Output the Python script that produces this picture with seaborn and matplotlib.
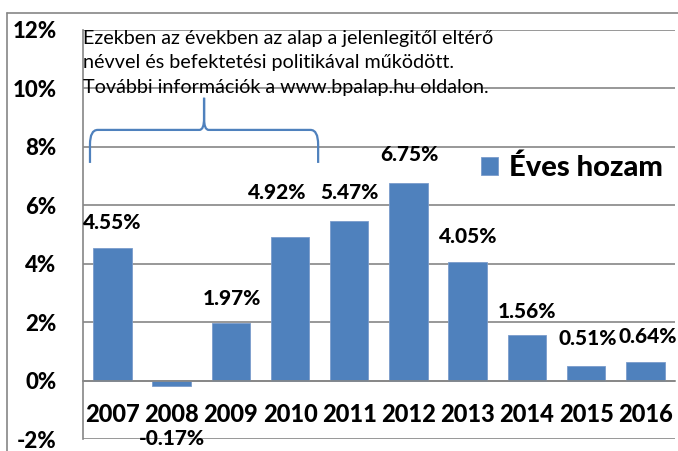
import pandas as pd
import numpy as np
import matplotlib.pyplot as plt
import seaborn as sns
import matplotlib.ticker as mticker
from matplotlib.path import Path
from matplotlib.patches import PathPatch
from matplotlib.lines import Line2D

years = ['2007', '2008', '2009', '2010', '2011', '2012', '2013', '2014', '2015', '2016']
returns = [4.55, -0.17, 1.97, 4.92, 5.47, 6.75, 4.05, 1.56, 0.51, 0.64]
series_name = 'Éves hozam'
note = ('Ezekben az években az alap a jelenlegitől eltérő\n'
        'névvel és befektetési politikával működött.\n'
        'További információk a www.bpalap.hu oldalon.')

# label nudges in pixels (excel placed some labels off-centre)
label_offsets = [(0, 25), (0, -53), (1, 25), (-13, 44), (0, 28),
                 (1, 29), (1, 26), (0, 23), (2, 27), (2, 25)]

sns.set_style('white')
plt.rcParams['font.family'] = ['Lato', 'DejaVu Sans']
plt.rcParams['text.color'] = 'black'
bold = 'black'

blue = '#4F81BD'
grey = '#868686'

df = pd.DataFrame({'year': years, 'ret': returns})

fig = plt.figure(figsize=(6.78, 4.51), dpi=100)
ax = fig.add_axes([82.7 / 678, 1 - 439 / 451, (675 - 82.7) / 678, (439 - 30) / 451])

sns.barplot(data=df, x='year', y='ret', color=blue, saturation=1, width=0.65,
            label=series_name, ax=ax, edgecolor='#7a9ccc', linewidth=0.6)

ax.set_xlim(-0.5, 9.5)
ax.set_ylim(-2, 12)
ax.set_xlabel('')
ax.set_ylabel('')
ax.yaxis.set_major_locator(mticker.MultipleLocator(2))
ax.yaxis.set_major_formatter(mticker.FuncFormatter(lambda v, p: f'{v:.0f}%'))
ax.set_axisbelow(True)
ax.yaxis.grid(True, color=grey, lw=1.2)

for s in ['top', 'right']:
    ax.spines[s].set_visible(False)
ax.spines['bottom'].set_position(('data', 0))
ax.spines['bottom'].set_color(grey)
ax.spines['bottom'].set_linewidth(1.2)
ax.spines['left'].set_color(grey)
ax.spines['left'].set_linewidth(1.2)

ax.set_xticks(np.arange(-0.5, 10, 1), minor=True)
ax.tick_params(axis='x', which='major', length=0, pad=16.5, labelsize=17, labelcolor='black')
ax.tick_params(axis='x', which='minor', length=4.5, width=1.2, color=grey, direction='out')
ax.tick_params(axis='y', length=5.8, width=1.2, color=grey, pad=13, labelsize=16,
               labelcolor='black')
for lab in ax.get_xticklabels() + ax.get_yticklabels():
    lab.set_fontweight(bold)

for i, (v, off) in enumerate(zip(returns, label_offsets)):
    ax.annotate(f'{v:.2f}%', xy=(i, v), xytext=off, textcoords='offset pixels',
                ha='center', va='center', fontsize=15, fontweight=bold)

leg = ax.legend(loc='center left', frameon=False, borderpad=0,
                prop={'size': 21, 'weight': bold}, handlelength=0.57, handleheight=0.57,
                handletextpad=0.4, borderaxespad=0)
leg.set_bbox_to_anchor((481 / 678, 1 - 168 / 451), transform=fig.transFigure)

ax.text(-0.5, 12.0, note, ha='left', va='top', fontsize=14.2, linespacing=1.53)

# curly brace over the first years
x0, x1, xm = -0.377, 3.475, 1.549
ye, yh, yp = 7.45, 8.58, 9.68
ddx, ddy = 0.13, 0.5
verts = [(x0, ye), (x0, yh - ddy), (x0, yh), (x0 + ddx, yh),
         (xm - ddx * 0.6, yh), (xm, yh), (xm, yh + ddy * 0.8), (xm, yp),
         (xm, yh + ddy * 0.8), (xm, yh), (xm + ddx * 0.6, yh),
         (x1 - ddx, yh), (x1, yh), (x1, yh - ddy), (x1, ye)]
codes = [Path.MOVETO, Path.LINETO, Path.CURVE3, Path.CURVE3,
         Path.LINETO, Path.CURVE3, Path.CURVE3, Path.LINETO,
         Path.LINETO, Path.CURVE3, Path.CURVE3,
         Path.LINETO, Path.CURVE3, Path.CURVE3, Path.LINETO]
ax.add_patch(PathPatch(Path(verts, codes), fill=False, edgecolor=blue, lw=1.6,
                       clip_on=False))

# outer chart frame (top and left edges visible)
fig.add_artist(Line2D([7 / 678, 7 / 678], [0, 1 - 13 / 451], color=grey, lw=1.2))
fig.add_artist(Line2D([7 / 678, 1], [1 - 13 / 451, 1 - 13 / 451], color=grey, lw=1.2))

fig.savefig('out.png', dpi=100)
